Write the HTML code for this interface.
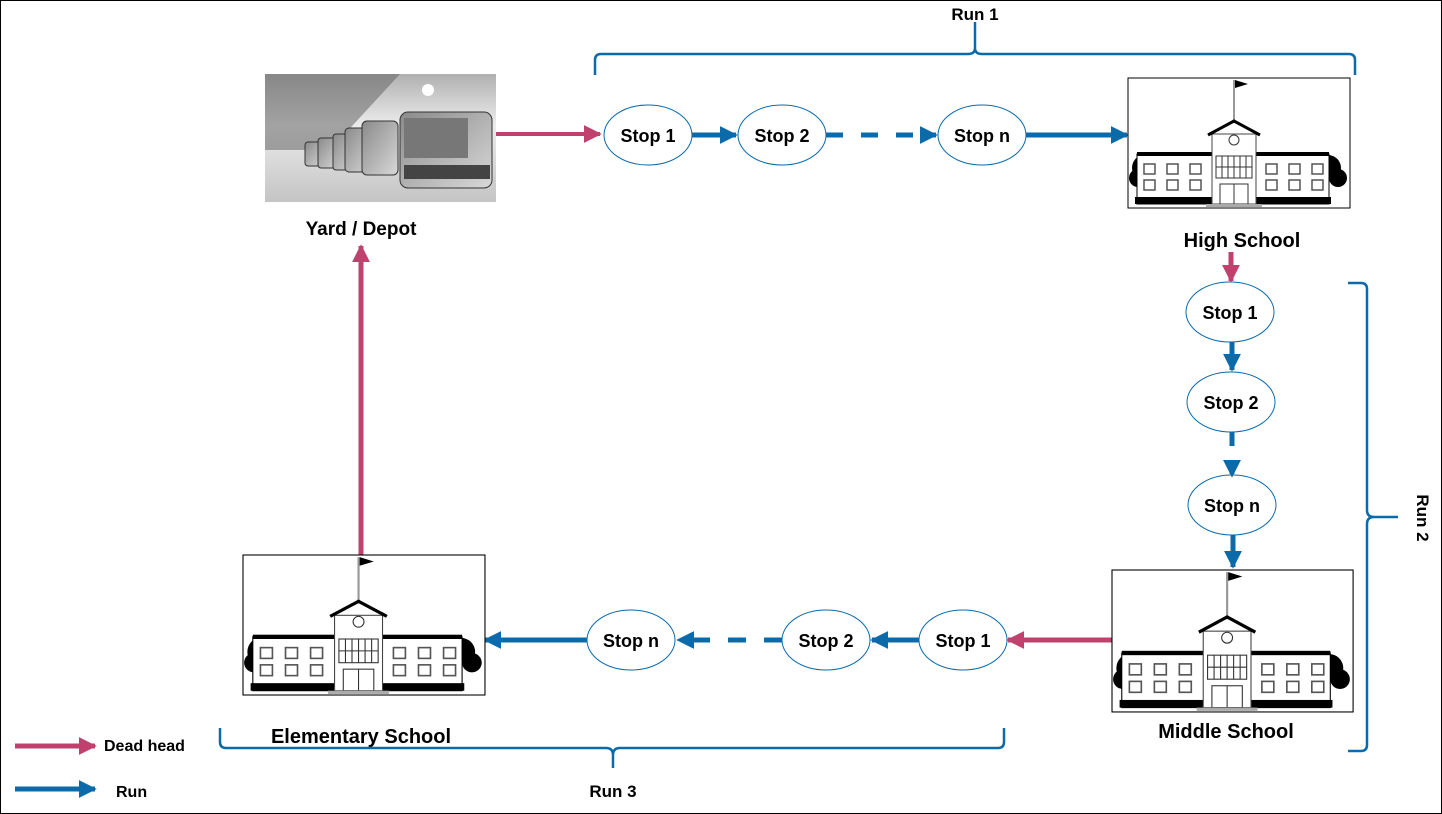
<!DOCTYPE html>
<html><head><meta charset="utf-8"><style>
html,body{margin:0;padding:0;background:#fff}
svg{display:block}
text{font-family:"Liberation Sans",Arial,sans-serif;font-weight:bold;fill:#000}
</style></head><body>
<svg width="1442" height="814" viewBox="0 0 1442 814" xmlns="http://www.w3.org/2000/svg">
<defs>
<marker id="bh" viewBox="0 0 10 10" refX="9" refY="5" markerWidth="18" markerHeight="20" orient="auto" markerUnits="userSpaceOnUse"><path d="M0,0L10,5L0,10z" fill="#0B6AAA"/></marker>
<marker id="ph" viewBox="0 0 10 10" refX="9" refY="5" markerWidth="18" markerHeight="20" orient="auto" markerUnits="userSpaceOnUse"><path d="M0,0L10,5L0,10z" fill="#C0406E"/></marker>
<linearGradient id="dg" x1="0" y1="0" x2="0" y2="1"><stop offset="0" stop-color="#b0b0b0"/><stop offset="0.4" stop-color="#ececec"/><stop offset="1" stop-color="#c4c4c4"/></linearGradient>
<linearGradient id="bus" x1="0" y1="0" x2="1" y2="1"><stop offset="0" stop-color="#8a8a8a"/><stop offset="1" stop-color="#d8d8d8"/></linearGradient>
<g id="school">
<rect x="0" y="0" width="222" height="130" fill="#fff" stroke="#000" stroke-width="1"/>
<line x1="106" y1="2" x2="106" y2="45" stroke="#999" stroke-width="2"/>
<path d="M107,2L120,6L107,10z" fill="#000"/>
<circle cx="18" cy="90" r="14" fill="#000"/><circle cx="10" cy="100" r="9" fill="#000"/>
<circle cx="200" cy="90" r="13" fill="#000"/><circle cx="210" cy="100" r="9" fill="#000"/>
<rect x="9" y="76" width="192" height="50" fill="#fff" stroke="#000" stroke-width="1"/>
<rect x="9" y="74" width="192" height="4" fill="#000"/>
<rect x="7" y="119" width="196" height="7" fill="#000"/>
<rect x="84" y="56" width="44" height="70" fill="#fff" stroke="#444" stroke-width="1"/>
<path d="M80,57L106,43L132,57" fill="none" stroke="#000" stroke-width="3"/>
<circle cx="106" cy="62" r="5" fill="#fff" stroke="#333"/>
<rect x="88" y="78" width="36" height="22" fill="#fff" stroke="#333"/>
<path d="M94,78V100M100,78V100M106,78V100M112,78V100M118,78V100M88,89H124" stroke="#333" stroke-width="1"/>
<rect x="92" y="106" width="28" height="20" fill="#fff" stroke="#333"/>
<line x1="106" y1="106" x2="106" y2="126" stroke="#333"/>
<rect x="78" y="126" width="56" height="3" fill="#aaa"/>
<g fill="none" stroke="#555" stroke-width="1.5">
<rect x="16" y="86" width="11" height="10"/><rect x="39" y="86" width="11" height="10"/><rect x="62" y="86" width="11" height="10"/>
<rect x="16" y="102" width="11" height="10"/><rect x="39" y="102" width="11" height="10"/><rect x="62" y="102" width="11" height="10"/>
<rect x="138" y="86" width="11" height="10"/><rect x="161" y="86" width="11" height="10"/><rect x="184" y="86" width="11" height="10"/>
<rect x="138" y="102" width="11" height="10"/><rect x="161" y="102" width="11" height="10"/><rect x="184" y="102" width="11" height="10"/>
</g>
</g>
</defs>
<rect x="0.5" y="0.5" width="1441" height="813" fill="#fff" stroke="#000"/>

<rect x="265" y="74" width="231" height="128" fill="url(#dg)"/>
<path d="M265,74H400L330,150H265z" fill="#666" opacity="0.55"/>
<circle cx="428" cy="90" r="6" fill="#fff"/>
<g fill="url(#bus)" stroke="#333">
<rect x="305" y="142" width="20" height="24" rx="3"/><rect x="318" y="138" width="22" height="30" rx="3"/><rect x="333" y="134" width="24" height="36" rx="3"/>
<rect x="345" y="128" width="28" height="44" rx="4"/><rect x="362" y="121" width="36" height="54" rx="5"/>
<rect x="400" y="112" width="92" height="76" rx="8"/>
</g>
<rect x="404" y="118" width="64" height="40" fill="#777"/>
<rect x="404" y="165" width="86" height="14" fill="#444"/>
<text x="361" y="235" font-size="19" text-anchor="middle">Yard / Depot</text>

<line x1="496" y1="134" x2="600" y2="134" stroke="#C0406E" stroke-width="4" marker-end="url(#ph)"/>
<g fill="#fff" stroke="#0B6AAA" stroke-width="1">
<ellipse cx="648" cy="135" rx="44" ry="30"/><ellipse cx="782" cy="135" rx="44" ry="30"/><ellipse cx="982" cy="135" rx="44" ry="30"/>
<ellipse cx="1230" cy="312" rx="44" ry="30"/><ellipse cx="1231" cy="402" rx="44" ry="30"/><ellipse cx="1232" cy="505" rx="44" ry="30"/>
<ellipse cx="963" cy="640" rx="44" ry="30"/><ellipse cx="826" cy="640" rx="44" ry="30"/><ellipse cx="631" cy="640" rx="44" ry="30"/>
</g>
<g font-size="18" text-anchor="middle">
<text x="648" y="142">Stop 1</text><text x="782" y="142">Stop 2</text><text x="982" y="142">Stop n</text>
<text x="1230" y="319">Stop 1</text><text x="1231" y="409">Stop 2</text><text x="1232" y="512">Stop n</text>
<text x="963" y="647">Stop 1</text><text x="826" y="647">Stop 2</text><text x="631" y="647">Stop n</text>
</g>
<g stroke="#0B6AAA" stroke-width="5" fill="none">
<line x1="692" y1="135" x2="736" y2="135" marker-end="url(#bh)"/>
<line x1="826" y1="135" x2="936" y2="135" stroke-dasharray="17,18" marker-end="url(#bh)"/>
<line x1="1026" y1="135" x2="1127" y2="135" marker-end="url(#bh)"/>
<line x1="1232" y1="342" x2="1232" y2="370" marker-end="url(#bh)"/>
<line x1="1232" y1="432" x2="1232" y2="476" stroke-dasharray="14,14" marker-end="url(#bh)"/>
<line x1="1233" y1="535" x2="1233" y2="567" marker-end="url(#bh)"/>
<line x1="919" y1="640" x2="872" y2="640" marker-end="url(#bh)"/>
<line x1="782" y1="640" x2="678" y2="640" stroke-dasharray="18,18" marker-end="url(#bh)"/>
<line x1="587" y1="640" x2="485" y2="640" marker-end="url(#bh)"/>
<line x1="15" y1="789" x2="95" y2="789" marker-end="url(#bh)"/>
</g>
<g stroke="#C0406E" stroke-width="5" fill="none">
<line x1="1231" y1="252" x2="1231" y2="281" marker-end="url(#ph)"/>
<line x1="1113" y1="640" x2="1008" y2="640" marker-end="url(#ph)"/>
<line x1="361" y1="555" x2="361" y2="246" marker-end="url(#ph)"/>
<line x1="15" y1="746" x2="95" y2="746" marker-end="url(#ph)"/>
</g>

<use href="#school" transform="translate(1128,78)"/>
<use href="#school" transform="translate(1112,570) scale(1.086,1.092)"/>
<use href="#school" transform="translate(243,555) scale(1.09,1.077)"/>

<g font-size="20" text-anchor="middle">
<text x="1242" y="247">High School</text>
<text x="1226" y="738">Middle School</text>
<text x="361" y="743">Elementary School</text>
</g>

<g stroke="#0B6AAA" stroke-width="2.5" fill="none">
<path d="M595,75V60Q595,54 601,54H968Q975,54 975,48V22M975,48Q975,54 982,54H1349Q1355,54 1355,60V75"/>
<path d="M1348,283H1361Q1367,283 1367,289V510Q1367,517 1374,517H1398M1374,517Q1367,517 1367,524V745Q1367,751 1361,751H1348"/>
<path d="M220,728V742Q220,748 226,748H606Q613,748 613,755V768M613,755Q613,748 620,748H998Q1004,748 1004,742V728"/>
</g>
<g font-size="17">
<text x="975" y="20" text-anchor="middle">Run 1</text>
<text x="613" y="797" text-anchor="middle">Run 3</text>
<text transform="translate(1417,518) rotate(90)" text-anchor="middle">Run 2</text>
<text x="104" y="751" font-size="16">Dead head</text>
<text x="116" y="797" font-size="16">Run</text>
</g>
</svg>
</body></html>
